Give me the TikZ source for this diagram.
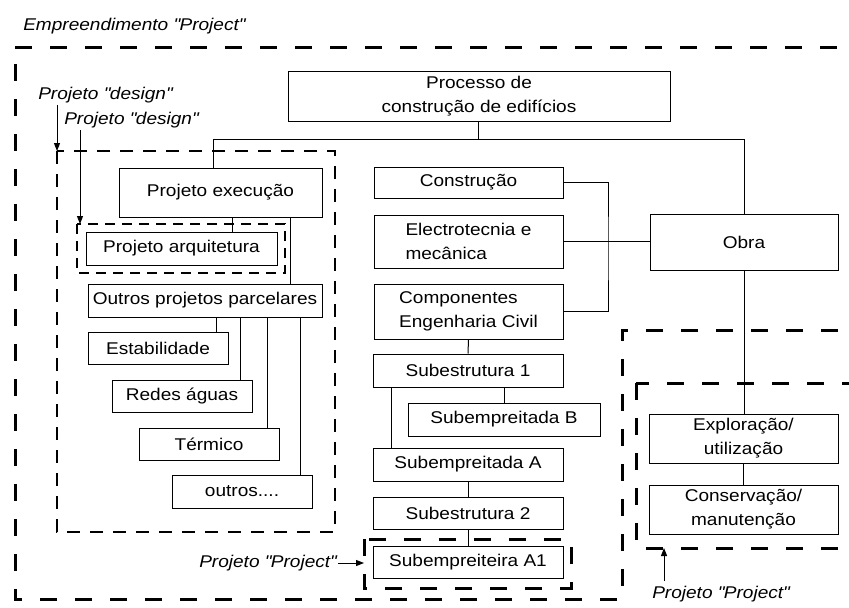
\documentclass[tikz,border=0pt]{standalone}
\usepackage{fontspec}
\setmainfont[FakeStretch=1.12]{Liberation Sans}
\usetikzlibrary{calc, arrows.meta}
\newcommand{\aspas}[1]{\textquotedbl#1\textquotedbl}
\tikzset{
	bloco/.style={draw, line width=0.75pt, inner sep=0pt, align=center, font=\fontsize{12.75}{18}\selectfont},
	tam/.style 2 args={minimum width=#1*0.75pt, minimum height=#2*0.75pt},
	rotulo/.style={font=\fontsize{12.75}{15}\selectfont\itshape, inner sep=0pt, anchor=west},
	liga/.style={line width=0.75pt},
	seta/.style={line width=0.75pt, -{Triangle[length=6pt,width=4.5pt]}},
	tracogrosso/.style={line width=2.25pt, dash pattern=on 12.75pt off 13.5pt},
	tracomedio/.style={line width=1.5pt, dash pattern=on 9.75pt off 7.5pt},
	tracofino/.style={line width=1.1pt, dash pattern=on 7.5pt off 5.25pt}
}

\begin{document}
\begin{tikzpicture}[x=0.75pt, y=-0.75pt]
	\clip (0,0) rectangle (849,607);
	
	% cantos das zonas tracejadas
	\coordinate (dNW) at (57,151);
	\coordinate (dSE) at (335,532);
	\coordinate (aNW) at (77,224);
	\coordinate (aSE) at (285,273);
	\coordinate (a1NW) at (364,539);
	\coordinate (a1SE) at (571,588);
	\coordinate (eNW) at (636,383);
	\coordinate (eSE) at (880,548);
	
	% caixas
	\node[bloco, tam={382}{50}] (proc) at (479,96) {Processo de\\construção de edifícios};
	\node[bloco, tam={203}{49}] (exec) at (220.5,192.5) {Projeto execução};
	\node[bloco, tam={191}{33}] (arq) at (181.5,248.5) {Projeto arquitetura};
	\node[bloco, tam={234}{33}] (parc) at (205,300.5) {Outros projetos parcelares};
	\node[bloco, tam={140}{32}] (estab) at (158,348) {Estabilidade};
	\node[bloco, tam={140}{32}] (redes) at (182,396) {Redes águas};
	\node[bloco, tam={140}{32}] (term) at (209,444) {Térmico};
	\node[bloco, tam={140}{33}] (outr) at (242,491.5) {outros....};
	\node[bloco, tam={189}{31}] (constr) at (468.5,182.5) {Construção};
	\node[bloco, tam={189}{53}, align=left] (elec) at (468.5,241.5) {Electrotecnia e\\mecânica};
	\node[bloco, tam={189}{55}, align=left] (comp) at (468.5,311.5) {Componentes\\Engenharia Civil};
	\node[bloco, tam={190}{33}] (sub1) at (468,370.5) {Subestrutura 1};
	\node[bloco, tam={192}{33}] (subB) at (504,419.5) {Subempreitada B};
	\node[bloco, tam={190}{33}] (subA) at (468,464.5) {Subempreitada A};
	\node[bloco, tam={190}{32}] (sub2) at (468,513) {Subestrutura 2};
	\node[bloco, tam={190}{32}] (subA1) at (468,562) {Subempreiteira A1};
	\node[bloco, tam={188}{56}] (obra) at (744,242) {Obra};
	\node[bloco, tam={189}{49}] (expl) at (743.5,438.5) {Exploração/\\utilização};
	\node[bloco, tam={189}{49}] (cons) at (743.5,509.5) {Conservação/\\manutenção};
	
	% ligacoes
	\coordinate (bus) at (478,139);
	\coordinate (execIn) at (213,168);
	\coordinate (rail) at (608,250);
	\draw[liga] (proc.south -| bus) -- (bus);
	\draw[liga] (bus) -| (execIn);
	\draw[liga] (bus) -| (obra.north);
	\draw[liga] (constr.east) -| (rail) |- (comp.east);
	\draw[liga] (elec.east) -- (elec.east -| obra.west);
	\draw[liga] (comp.south) -- (sub1.north);
	\draw[liga] (sub1.south -| subB.north) -- (subB.north);
	\draw[liga] ($(sub1.south west)+(19,0)$) coordinate (t) -- (t |- subA.north);
	\draw[liga] (subA.south) -- (sub2.north);
	\draw[liga] (sub2.south) -- (subA1.north);
	\draw[liga] ($(exec.south)+(11.5,0)$) coordinate (t) -- (t |- arq.north);
	\draw[liga] ($(exec.south)+(69.5,0)$) coordinate (t) -- (t |- parc.north);
	\foreach \n in {estab,redes,term,outr}
		\draw[liga] ($(\n.north east)+(-12,0)$) coordinate (t) -- (t |- parc.south);
	\draw[liga] (obra.south) -- (obra.south |- expl.north);
	\draw[liga] (expl.south) -- (cons.north);
	
	% zonas tracejadas
	\draw[tracogrosso] (15,47) -- (880,47) -- (880,330) -- (622,330) -- (622,599) -- (15,599) -- cycle;
	\draw[tracomedio] (dNW) rectangle (dSE);
	\draw[tracofino] (aNW) rectangle (aSE);
	\draw[tracogrosso] (a1NW) rectangle (a1SE);
	\draw[tracogrosso] (eNW) rectangle (eSE);
	
	% rotulos
	\node[rotulo] (empr) at (23,26) {Empreendimento \aspas{Project}};
	\node[rotulo] (des1) at (38,95) {Projeto \aspas{design}};
	\node[rotulo] (des2) at (64,120) {Projeto \aspas{design}};
	\node[rotulo] (proj1) at (199,563) {Projeto \aspas{Project}};
	\node[rotulo] (proj2) at (652,594) {Projeto \aspas{Project}};
	
	\coordinate (s1) at (57,105);
	\coordinate (s2) at (80,130);
	\coordinate (s3) at (664,581);
	\draw[seta] (s1) -- (s1 |- dNW);
	\draw[seta] (s2) -- (s2 |- aNW);
	\draw[seta] ($(proj1.east)+(2,0)$) -- (proj1.east -| a1NW);
	\draw[seta] (s3) -- (s3 |- eSE);
\end{tikzpicture}
\end{document}
